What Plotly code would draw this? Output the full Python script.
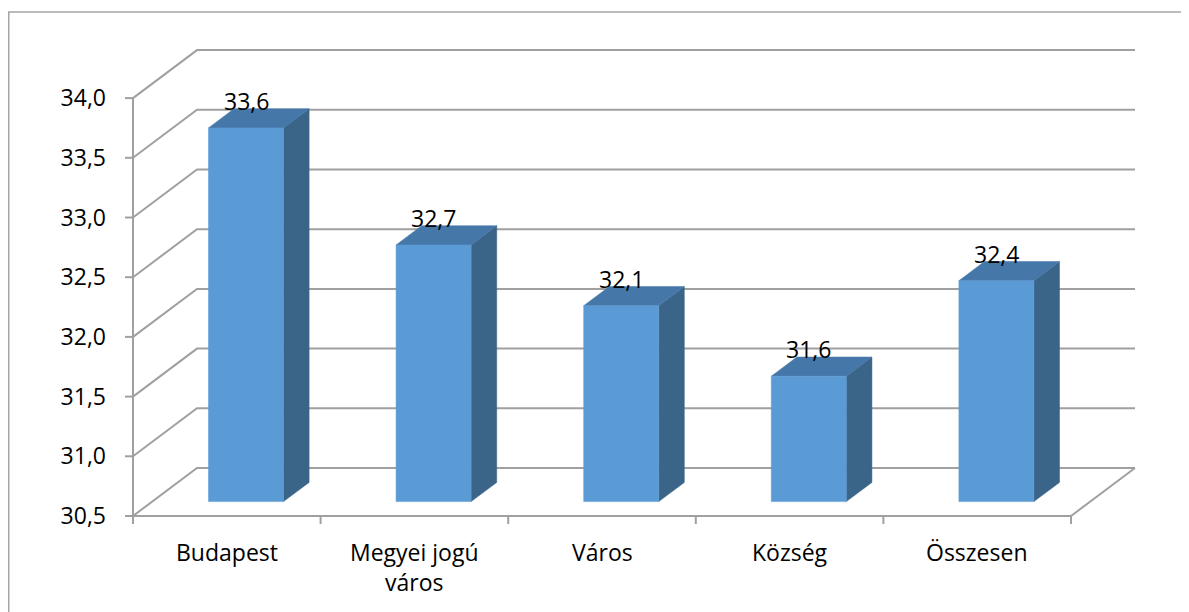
import plotly.graph_objects as go

categories = ["Budapest", "Megyei jogú<br>város", "Város", "Község", "Összesen"]
values = [33.63, 32.65, 32.14, 31.55, 32.35]
value_labels = ["33,6", "32,7", "32,1", "31,6", "32,4"]
tick_values = [30.5, 31.0, 31.5, 32.0, 32.5, 33.0, 33.5, 34.0]
tick_labels = ["30,5", "31,0", "31,5", "32,0", "32,5", "33,0", "33,5", "34,0"]

W, H = 1189, 612
OFF = 8                        # page body margin
SX, SY = 187.6, 119.4          # px per category unit / per value unit
X0PX, Y0PX = 133 - OFF, 516 - OFF   # figure pixel of (x=0, y=30.5)
BASE = tick_values[0]
TOP = tick_values[-1]
DX, DY = 64 / SX, 48 / SY      # oblique depth offset (data units)
BAR_W = 0.4
D0, D1 = 0.3, 0.7              # bar depth range (fraction)

L, R, T, B = 114, 1132, 22, 522
xmin, xmax = -(X0PX - L) / SX, (R - X0PX) / SX
ymin, ymax = BASE - (B - Y0PX) / SY, BASE + (Y0PX - T) / SY

GRID = "#A0A0A0"
FRONT = "#5B9BD5"
TOPC = "#4677A9"
SIDE = "#3A6488"
FONT = "Open Sans"

fig = go.Figure()

def line(xs, ys, color=GRID, width=2):
    fig.add_trace(go.Scatter(x=xs, y=ys, mode="lines", line=dict(color=color, width=width),
                             hoverinfo="skip", showlegend=False))

def poly(xs, ys, color):
    fig.add_trace(go.Scatter(x=xs + [xs[0]], y=ys + [ys[0]], mode="lines", fill="toself",
                             fillcolor=color, line=dict(color=color, width=0.5),
                             hoverinfo="skip", showlegend=False))

n = len(categories)
# walls and gridlines
for v in tick_values:
    line([0, DX, n + DX], [v, v + DY, v + DY])
# floor front and right edge
line([0, n, n + DX], [BASE, BASE, BASE + DY])
# front value axis
line([0, 0], [BASE, TOP])
tk = 8 / SX
for v in tick_values:
    line([0, -tk], [v, v])
# category ticks
for i in range(n + 1):
    line([i, i], [BASE, BASE - 8 / SY])

# bars
for i, v in enumerate(values):
    cx = i + 0.5 + D0 * DX
    xl, xr = cx - BAR_W / 2, cx + BAR_W / 2
    yb = BASE + D0 * DY
    yt = v + D0 * DY
    ddx, ddy = (D1 - D0) * DX, (D1 - D0) * DY
    poly([xr, xr + ddx, xr + ddx, xr], [yb, yb + ddy, yt + ddy, yt], SIDE)
    poly([xl, xr, xr + ddx, xl + ddx], [yt, yt, yt + ddy, yt + ddy], TOPC)
    poly([xl, xr, xr, xl], [yb, yb, yt, yt], FRONT)
    fig.add_annotation(x=cx, y=v + D1 * DY, text=value_labels[i], showarrow=False,
                       xanchor="center", yanchor="bottom", yshift=-10,
                       font=dict(family=FONT, size=23, color="black"))

for i, c in enumerate(categories):
    fig.add_annotation(x=i + 0.5, y=BASE, text=c, showarrow=False, xanchor="center",
                       yanchor="top", yshift=-18,
                       font=dict(family=FONT, size=23, color="black"))

def paper_x(p):
    return (p - L) / (R - L)

def paper_y(p):
    return (B - p) / (B - T)

fig.add_shape(type="rect", xref="paper", yref="paper",
              x0=paper_x(8 - OFF + 0.75), x1=paper_x(1183 - OFF), y0=paper_y(640), y1=paper_y(12 - OFF),
              line=dict(color="#A6A6A6", width=1.5), layer="below")

fig.update_layout(
    width=W, height=H,
    margin=dict(l=L, r=W - R, t=T, b=H - B),
    plot_bgcolor="white", paper_bgcolor="white",
    showlegend=False,
    xaxis=dict(range=[xmin, xmax], visible=False, fixedrange=True),
    yaxis=dict(range=[ymin, ymax], showgrid=False, zeroline=False, showline=False,
               tickmode="array", tickvals=tick_values, ticktext=tick_labels,
               ticks="", ticklabelstandoff=15,
               tickfont=dict(family=FONT, size=23, color="black")),
)

fig.write_html("out.html")
